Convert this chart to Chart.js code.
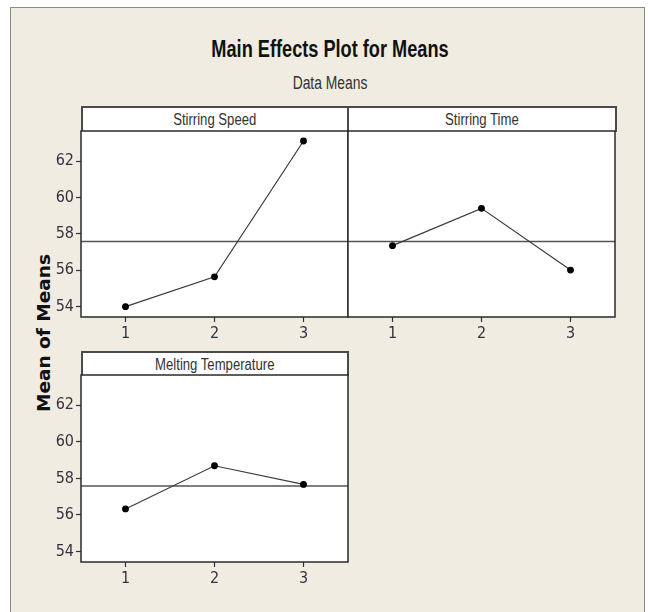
<!DOCTYPE html>
<html lang="en">
<head>
<meta charset="UTF-8">
<title>Main Effects Plot for Means</title>
<script src="https://cdn.jsdelivr.net/npm/chart.js"></script>
<style>
  body { margin: 0; background: #fff; width: 648px; height: 612px; overflow: hidden; position: relative; }
  .frame { position: absolute; left: 10px; top: 7px; width: 633px; height: 620px; background: #f0ece2; border: 1px solid #8a8a8a; }
  .txt { position: absolute; font-family: 'Liberation Sans', Arial, sans-serif; white-space: nowrap; line-height: 1;
         text-align: center; transform-origin: 50% 50%; }
  .title { left: 80px; width: 500px; top: 38px; font-size: 23px; font-weight: bold; color: #111; transform: scaleX(0.79); }
  .subtitle { left: 80px; width: 500px; top: 74px; font-size: 18px; color: #333; transform: scaleX(0.77); }
  .ylabel { position: absolute; left: 43px; top: 333px; transform: translate(-50%, -50%) rotate(-90deg);
            font-family: 'DejaVu Sans', Verdana, sans-serif; font-weight: bold; font-size: 18.5px; color: #111; white-space: nowrap; }
  .header { position: absolute; box-sizing: border-box; background: #fff; border: 2px solid #4a4a4a; border-bottom: none;
            display: flex; align-items: center; justify-content: center; }
  .header span { font-family: 'Liberation Sans', Arial, sans-serif; font-size: 16px; color: #333; transform: scaleX(0.82); white-space: nowrap; }
  canvas { position: absolute; }
</style>
</head>
<body>
<div class="frame"></div>
<div class="txt title">Main Effects Plot for Means</div>
<div class="txt subtitle">Data Means</div>
<div class="ylabel">Mean of Means</div>

<div class="header" style="left:81px; top:106px; width:268px; height:26px;"><span>Stirring Speed</span></div>
<div class="header" style="left:347px; top:106px; width:270px; height:26px;"><span>Stirring Time</span></div>
<div class="header" style="left:81px; top:351px; width:268px; height:25px;"><span>Melting Temperature</span></div>

<canvas id="speedChart" width="314" height="223" style="left:36px; top:129px;"></canvas>
<canvas id="timeChart" width="314" height="223" style="left:303px; top:129px;"></canvas>
<canvas id="tempChart" width="314" height="224" style="left:36px; top:373px;"></canvas>

<script>
const levels = [1, 2, 3];
const speedMeans = [54.0, 55.64, 63.1];
const timeMeans = [57.35, 59.4, 56.01];
const tempMeans = [56.33, 58.69, 57.67];
const grandMean = 57.58;
const yTicks = [54, 56, 58, 60, 62];

const font = "'Liberation Sans Narrow', 'DejaVu Sans Condensed', sans-serif";

// white plot box + frame, and the grand mean reference line
const panelBox = {
    id: 'panelBox',
    beforeDraw(chart) {
        const a = chart.chartArea, ctx = chart.ctx;
        ctx.save();
        ctx.fillStyle = '#fff';
        ctx.fillRect(a.left, a.top, a.right - a.left, a.bottom - a.top);
        ctx.restore();
    },
    beforeDatasetsDraw(chart) {
        const a = chart.chartArea, ctx = chart.ctx;
        const y = chart.scales.y.getPixelForValue(grandMean);
        ctx.save();
        ctx.strokeStyle = '#555';
        ctx.lineWidth = 1.5;
        ctx.beginPath();
        ctx.moveTo(a.left, y);
        ctx.lineTo(a.right, y);
        ctx.stroke();
        ctx.restore();
    },
    afterDraw(chart) {
        const a = chart.chartArea, ctx = chart.ctx;
        ctx.save();
        ctx.strokeStyle = '#2a2a2a';
        ctx.lineWidth = 1.5;
        ctx.strokeRect(a.left, a.top, a.right - a.left, a.bottom - a.top);
        ctx.restore();
    }
};

function makePanel(id, means, showY) {
    const ctx = document.getElementById(id).getContext('2d');
    return new Chart(ctx, {
        type: 'line',
        data: {
            datasets: [{
                data: levels.map((l, i) => ({ x: l, y: means[i] })),
                borderColor: '#3a3a3a',
                borderWidth: 1.2,
                pointBackgroundColor: '#000',
                pointBorderColor: '#000',
                pointRadius: 2.8,
                tension: 0
            }]
        },
        options: {
            responsive: false,
            animation: false,
            layout: { autoPadding: false, padding: { top: 2, right: 2, left: 0, bottom: 0 } },
            plugins: { legend: { display: false }, tooltip: { enabled: false } },
            scales: {
                x: {
                    type: 'linear',
                    min: 0.5,
                    max: 3.5,
                    afterBuildTicks: s => { s.ticks = levels.map(v => ({ value: v })); },
                    afterFit: s => { s.height = 35; s.paddingLeft = 0; s.paddingRight = 0; },
                    border: { display: false },
                    grid: { drawOnChartArea: false, tickLength: 5, tickColor: '#333', tickWidth: 1.2 },
                    ticks: { padding: 2, color: '#333340', font: { family: font, size: 16 } }
                },
                y: {
                    min: 53.43,
                    max: 63.65,
                    afterBuildTicks: s => { s.ticks = yTicks.map(v => ({ value: v })); },
                    afterFit: s => { s.width = 45; s.paddingTop = 0; s.paddingBottom = 0; },
                    border: { display: false },
                    grid: { display: showY, drawOnChartArea: false, tickLength: 5, tickColor: '#333', tickWidth: 1.2 },
                    ticks: { display: showY, padding: 2, color: '#333340', font: { family: font, size: 16 } }
                }
            }
        },
        plugins: [panelBox]
    });
}

makePanel('speedChart', speedMeans, true);
makePanel('timeChart', timeMeans, false);
makePanel('tempChart', tempMeans, true);
</script>
</body>
</html>
